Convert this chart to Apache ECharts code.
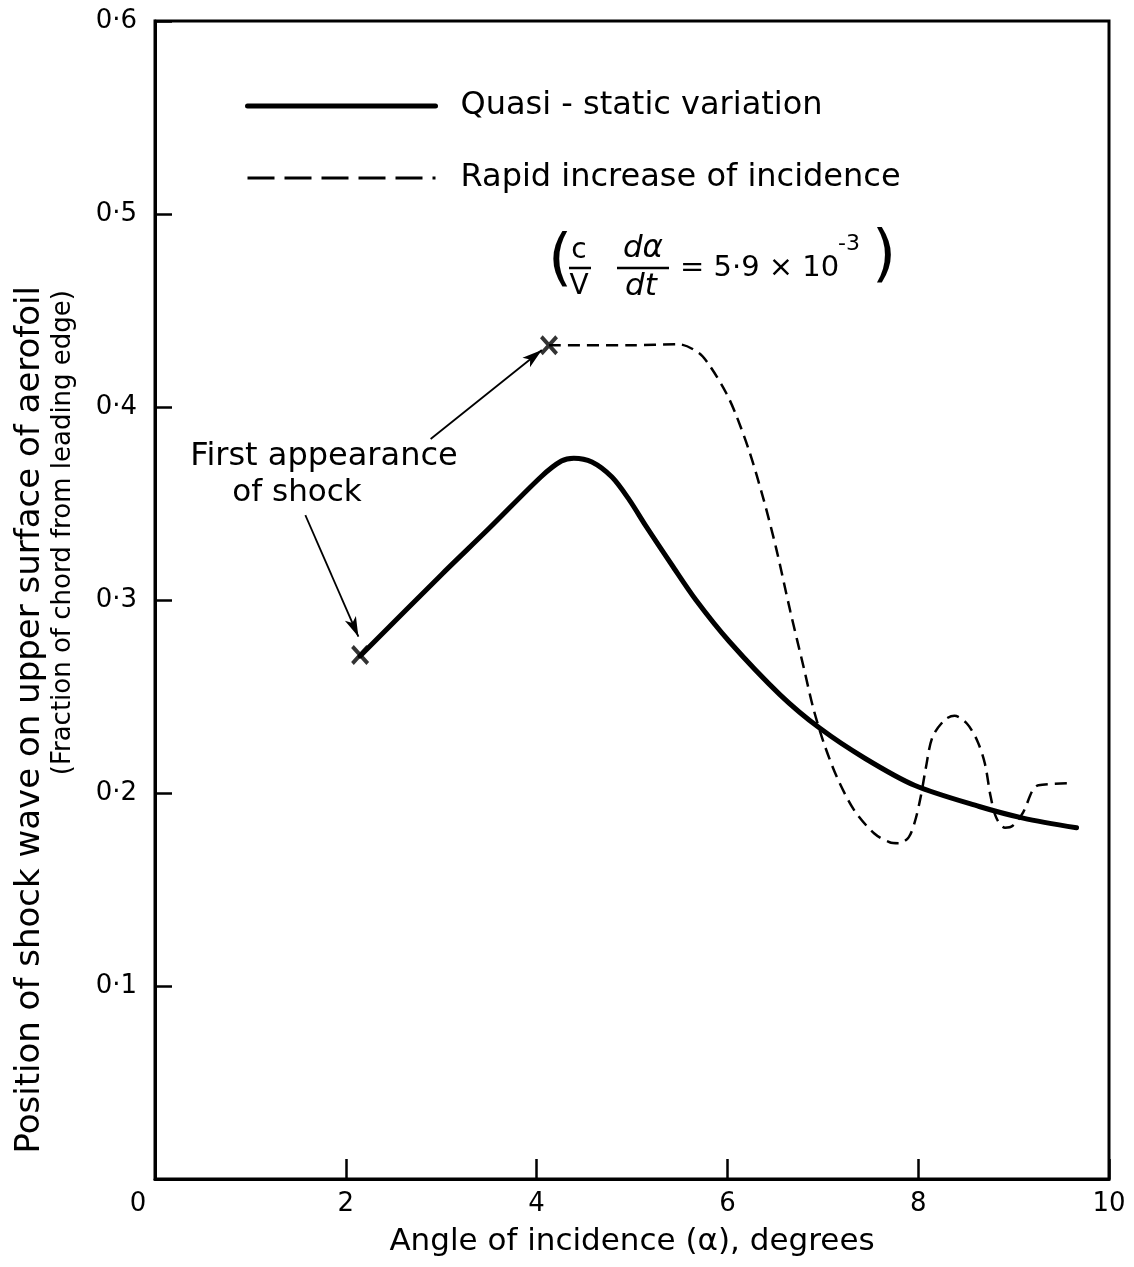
<!DOCTYPE html>
<html>
<head>
<meta charset="utf-8">
<script src="https://cdn.jsdelivr.net/npm/echarts@6/dist/echarts.min.js"></script>
<style>
  html, body { margin: 0; padding: 0; background: #ffffff; }
  #chart { width: 1134px; height: 1267px; }
</style>
</head>
<body>
<div id="chart"></div>
<script>
// Angle of incidence (degrees) against shock position (fraction of chord)
const xTicks = [0, 2, 4, 6, 8, 10];
const yTicks = [0, 0.1, 0.2, 0.3, 0.4, 0.5, 0.6];

const quasiStatic = [
  [2.15, 0.271], [3.0, 0.313], [3.5, 0.337], [4.05, 0.364],
  [4.26, 0.372], [4.39, 0.3735], [4.58, 0.3715], [4.79, 0.3637], [4.97, 0.352],
  [5.15, 0.338], [5.42, 0.318], [5.67, 0.300], [6.02, 0.2785],
  [6.55, 0.251], [6.97, 0.2335], [7.44, 0.218], [7.96, 0.204],
  [8.64, 0.193], [9.1, 0.187], [9.66, 0.182]
];

const rapidIncrease = [
  [4.13, 0.432], [5.0, 0.432], [5.49, 0.4325], [5.70, 0.428], [5.82, 0.421],
  [5.99, 0.407], [6.09, 0.396], [6.23, 0.377], [6.38, 0.352], [6.51, 0.327],
  [6.66, 0.294], [6.80, 0.265], [6.90, 0.244], [7.01, 0.226], [7.15, 0.208],
  [7.33, 0.191], [7.54, 0.179], [7.70, 0.1745], [7.80, 0.174], [7.90, 0.177],
  [7.97, 0.186], [8.03, 0.199], [8.08, 0.213], [8.15, 0.229], [8.28, 0.238],
  [8.38, 0.240], [8.51, 0.236], [8.62, 0.227], [8.70, 0.215], [8.76, 0.198],
  [8.82, 0.187], [8.91, 0.182], [8.99, 0.183], [9.10, 0.190], [9.20, 0.2015],
  [9.26, 0.204], [9.57, 0.205]
];

// Points where the shock is first seen
const firstShock = [[2.15, 0.2715], [4.13, 0.432]];

// Pointer lines from the note to each first-appearance point
const pointerFrom = [[1.576, 0.344], [2.889, 0.3834]];
const pointerTo = [[2.132, 0.281], [4.055, 0.4295]];

const FONT = 'DejaVu Sans';
const crossPath = 'path://M0,3 L3,0 L10,7 L17,0 L20,3 L13,10 L20,17 L17,20 L10,13 L3,20 L0,17 L7,10 Z';

const chart = echarts.init(document.getElementById('chart'), null, { renderer: 'canvas' });

const fmtY = v => (v === 0 ? '' : v.toFixed(1).replace('.', '\u00b7'));

chart.setOption({
  animation: false,
  backgroundColor: '#ffffff',
  textStyle: { fontFamily: FONT, color: '#000' },
  grid: {
    left: 155, right: 25, top: 21, bottom: 88,
    show: true, borderColor: '#000', borderWidth: 3, backgroundColor: 'transparent'
  },
  legend: {
    orient: 'vertical',
    left: 245,
    top: 88,
    padding: 0,
    itemWidth: 188,
    itemHeight: 14,
    itemGap: 36,
    selectedMode: false,
    itemStyle: { opacity: 0 },
    textStyle: { fontFamily: FONT, fontSize: 32, color: '#000', lineHeight: 36, padding: [0, 0, 0, 20] },
    data: [
      { name: 'Quasi - static variation', lineStyle: { width: 5, type: 'solid', color: '#000' } },
      { name: 'Rapid increase of incidence', lineStyle: { width: 3, type: [27, 10], color: '#000' } }
    ]
  },
  xAxis: {
    type: 'value',
    min: xTicks[0],
    max: xTicks[xTicks.length - 1],
    interval: 2,
    name: 'Angle of incidence (\u03b1), degrees',
    nameLocation: 'middle',
    nameGap: 47,
    nameTextStyle: { fontFamily: FONT, fontSize: 31, color: '#000' },
    axisLine: { show: true, onZero: false, lineStyle: { color: '#000', width: 3 } },
    axisTick: { show: true, inside: true, length: 20, lineStyle: { color: '#000', width: 2.5 } },
    splitLine: { show: false },
    axisLabel: {
      margin: 12,
      fontFamily: FONT,
      fontSize: 26,
      color: '#000',
      formatter: v => (v === 0 ? '{z|0}' : String(v)),
      rich: { z: { fontFamily: FONT, fontSize: 26, color: '#000', padding: [0, 34, 0, 0] } }
    }
  },
  yAxis: {
    type: 'value',
    min: yTicks[0],
    max: yTicks[yTicks.length - 1],
    interval: 0.1,
    axisLine: { show: true, onZero: false, lineStyle: { color: '#000', width: 3 } },
    axisTick: { show: true, inside: true, length: 17, lineStyle: { color: '#000', width: 2.5 } },
    splitLine: { show: false },
    axisLabel: { margin: 18, fontFamily: FONT, fontSize: 26, color: '#000', formatter: fmtY }
  },
  series: [
    {
      name: 'Quasi - static variation',
      type: 'line',
      data: quasiStatic,
      symbol: 'none',
      smooth: 0.3,
      lineStyle: { color: '#000', width: 5, cap: 'round' },
      itemStyle: { color: '#000' },
      z: 3
    },
    {
      name: 'Rapid increase of incidence',
      type: 'line',
      data: rapidIncrease,
      symbol: 'none',
      smooth: 0.3,
      lineStyle: { color: '#000', width: 2.5, type: [12, 7] },
      itemStyle: { color: '#000' },
      z: 3
    },
    {
      name: 'First appearance of shock',
      type: 'scatter',
      data: firstShock,
      symbol: crossPath,
      symbolSize: [18, 20],
      itemStyle: { color: '#000' },
      silent: true,
      z: 4,
      markLine: {
        silent: true,
        symbol: ['none', 'arrow'],
        symbolSize: [9, 20],
        label: { show: false },
        lineStyle: { color: '#000', width: 1.8, type: 'solid' },
        data: pointerFrom.map((p, i) => [{ coord: p }, { coord: pointerTo[i] }])
      }
    }
  ],
  graphic: [
    // Y axis title, two lines reading upwards
    {
      type: 'text', x: 30, y: 286, rotation: Math.PI / 2,
      style: { text: 'Position of shock wave on upper surface of aerofoil', fontFamily: FONT, fontSize: 34, fill: '#000', align: 'right', verticalAlign: 'middle' }
    },
    {
      type: 'text', x: 63, y: 290, rotation: Math.PI / 2,
      style: { text: '(Fraction of chord from leading edge)', fontFamily: FONT, fontSize: 26, fill: '#000', align: 'right', verticalAlign: 'middle' }
    },
    // Note on the first appearance of the shock
    {
      type: 'text', x: 324, y: 457,
      style: { text: 'First appearance', fontFamily: FONT, fontSize: 32, fill: '#000', align: 'center', verticalAlign: 'middle' }
    },
    {
      type: 'text', x: 297, y: 493,
      style: { text: 'of shock', fontFamily: FONT, fontSize: 31, fill: '#000', align: 'center', verticalAlign: 'middle' }
    },
    // Rate of incidence change: (c/V)(dα/dt) = 5·9 × 10^-3
    {
      type: 'group', x: 0, y: 0,
      children: [
        { type: 'text', x: 560, y: 262, style: { text: '(', fontFamily: FONT, fontSize: 62, fill: '#000', align: 'center', verticalAlign: 'middle' } },
        { type: 'text', x: 579, y: 251, style: { text: 'c', fontFamily: FONT, fontSize: 28, fill: '#000', align: 'center', verticalAlign: 'middle' } },
        { type: 'line', shape: { x1: 569, y1: 268, x2: 591, y2: 268 }, style: { stroke: '#000', lineWidth: 2.5 } },
        { type: 'text', x: 579, y: 287, style: { text: 'V', fontFamily: FONT, fontSize: 28, fill: '#000', align: 'center', verticalAlign: 'middle' } },
        { type: 'text', x: 643, y: 249, style: { text: 'd\u03b1', fontFamily: FONT, fontSize: 31, fontStyle: 'italic', fill: '#000', align: 'center', verticalAlign: 'middle' } },
        { type: 'line', shape: { x1: 617, y1: 268, x2: 669, y2: 268 }, style: { stroke: '#000', lineWidth: 2.5 } },
        { type: 'text', x: 641, y: 287, style: { text: 'dt', fontFamily: FONT, fontSize: 31, fontStyle: 'italic', fill: '#000', align: 'center', verticalAlign: 'middle' } },
        { type: 'text', x: 680, y: 268, style: { text: '= 5\u00b79 \u00d7 10', fontFamily: FONT, fontSize: 29, fill: '#000', align: 'left', verticalAlign: 'middle' } },
        { type: 'text', x: 838, y: 244, style: { text: '-3', fontFamily: FONT, fontSize: 22, fill: '#000', align: 'left', verticalAlign: 'middle' } },
        { type: 'text', x: 884, y: 258, style: { text: ')', fontFamily: FONT, fontSize: 62, fill: '#000', align: 'center', verticalAlign: 'middle' } }
      ]
    }
  ]
});
</script>
</body>
</html>
